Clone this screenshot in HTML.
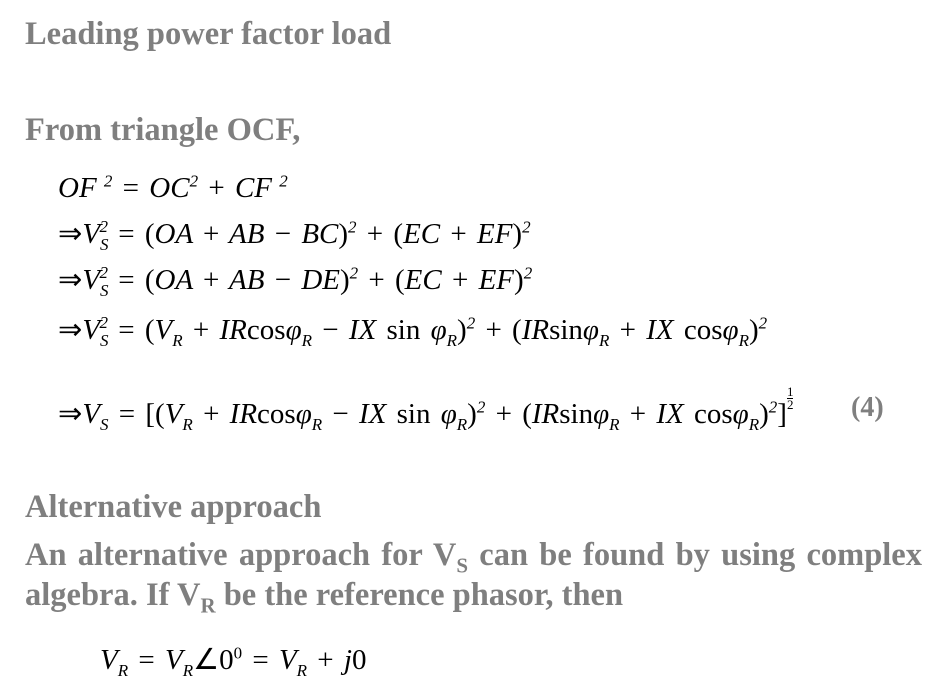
<!DOCTYPE html>
<html><head><meta charset="utf-8"><style>
body{margin:0;width:940px;height:689px;background:#fff;position:relative;overflow:hidden;font-family:"Liberation Serif",serif}
.h{position:absolute;left:25px;color:#7f7f7f;font-weight:bold;font-size:32.5px;line-height:32px;white-space:nowrap}
.m{position:absolute;left:58px;color:#000;font-size:29px;line-height:29px;white-space:nowrap;font-style:italic;word-spacing:3px}
.m .n{font-style:normal}
sub,sup{font-size:17px;line-height:0}
.p{position:absolute;left:25px;width:897px;color:#7f7f7f;font-weight:bold;font-size:32.5px;line-height:32px;text-align:justify;text-align-last:justify;white-space:nowrap}
.fr{display:inline-block;vertical-align:14px;font-size:13px;line-height:12px;text-align:center;font-style:normal}
.fr span{display:block}
</style></head><body>
<div class="h" style="top:18px">Leading power factor load</div>
<div class="h" style="top:114px">From triangle OCF,</div>
<div class="m" style="top:174px">OF<sup>&nbsp;2</sup> <span class="n">=</span> OC<sup>2</sup> <span class="n">+</span> CF<sup>&nbsp;2</sup></div>
<div class="m" style="top:220px"><span class="n">⇒</span>V<sub>S</sub><sup style="margin-left:-9px">2</sup> <span class="n">= (</span>OA <span class="n">+</span> AB <span class="n">−</span> BC<span class="n">)</span><sup>2</sup> <span class="n">+ (</span>EC <span class="n">+</span> EF<span class="n">)</span><sup>2</sup></div>
<div class="m" style="top:266px"><span class="n">⇒</span>V<sub>S</sub><sup style="margin-left:-9px">2</sup> <span class="n">= (</span>OA <span class="n">+</span> AB <span class="n">−</span> DE<span class="n">)</span><sup>2</sup> <span class="n">+ (</span>EC <span class="n">+</span> EF<span class="n">)</span><sup>2</sup></div>
<div class="m" style="top:316px"><span class="n">⇒</span>V<sub>S</sub><sup style="margin-left:-9px">2</sup> <span class="n">= (</span>V<sub>R</sub> <span class="n">+</span> IR<span class="n">cos</span>φ<sub>R</sub> <span class="n">−</span> IX<span class="n"> sin </span>φ<sub>R</sub><span class="n">)</span><sup>2</sup> <span class="n">+ (</span>IR<span class="n">sin</span>φ<sub>R</sub> <span class="n">+</span> IX<span class="n"> cos</span>φ<sub>R</sub><span class="n">)</span><sup>2</sup></div>
<div class="m" style="top:386px"><span class="n">⇒</span>V<sub>S</sub> <span class="n">= [(</span>V<sub>R</sub> <span class="n">+</span> IR<span class="n">cos</span>φ<sub>R</sub> <span class="n">−</span> IX<span class="n"> sin </span>φ<sub>R</sub><span class="n">)</span><sup>2</sup> <span class="n">+ (</span>IR<span class="n">sin</span>φ<sub>R</sub> <span class="n">+</span> IX<span class="n"> cos</span>φ<sub>R</sub><span class="n">)</span><sup>2</sup><span class="n">]</span><span class="fr"><span style="border-bottom:1px solid #000">1</span><span>2</span></span></div>
<div class="h" style="top:392px;left:851px;font-size:28px">(4)</div>
<div class="h" style="top:491px">Alternative approach</div>
<div class="p" style="top:539px">An alternative approach for V<sub style="font-size:21px">S</sub> can be found by using complex</div>
<div class="h" style="top:579px">algebra. If V<sub style="font-size:21px">R</sub> be the reference phasor, then</div>
<div class="m" style="top:646px;left:100px">V<sub>R</sub> <span class="n">=</span> V<sub>R</sub><span class="n">∠0<sup>0</sup> =</span> V<sub>R</sub> <span class="n">+</span> j<span class="n">0</span></div>
</body></html>
